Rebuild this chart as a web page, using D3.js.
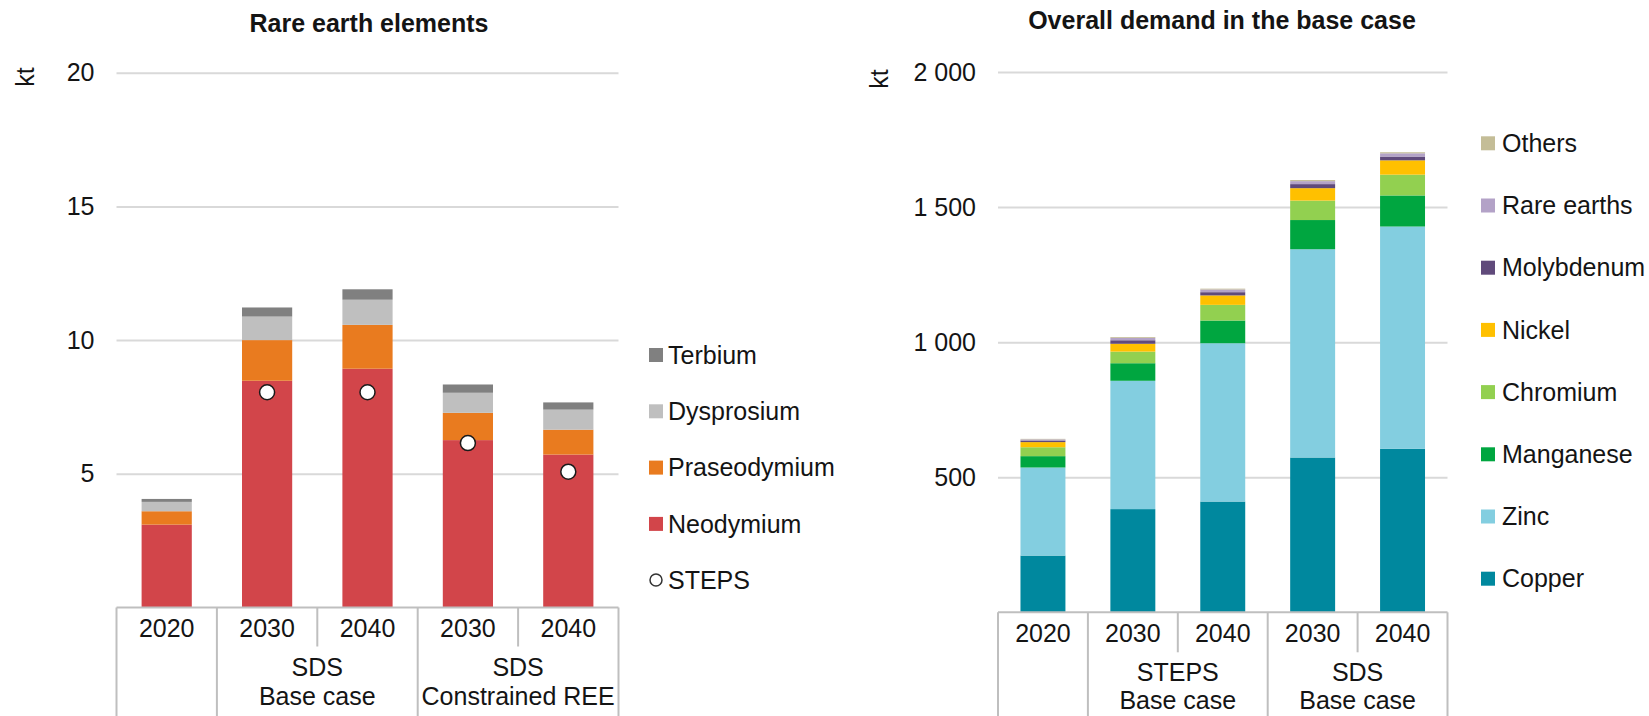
<!DOCTYPE html>
<html>
<head>
<meta charset="utf-8">
<script src="https://cdn.jsdelivr.net/npm/d3@7"></script>
<style>
  body { margin: 0; background: #fff; }
  svg { display: block; font-family: "Liberation Sans", Arial, sans-serif; }
</style>
</head>
<body>
<div id="chart"></div>
<script>
// ---- data: rare earth elements (kt) ----
var reeYears = ["2020", "2030", "2040", "2030", "2040"];
var reeGroups = [[""], ["SDS", "Base case"], ["SDS", "Constrained REE"]];
var reeGroupSpans = [1, 2, 2];
var neodymium = [3.1, 8.48, 8.93, 6.26, 5.72];
var praseodymium = [0.5, 1.52, 1.64, 1.02, 0.93];
var dysprosium = [0.35, 0.88, 0.94, 0.75, 0.75];
var terbium = [0.11, 0.34, 0.39, 0.31, 0.27];
var steps = [null, 8.05, 8.05, 6.15, 5.08];
var reeTicks = [5, 10, 15, 20];

// ---- data: overall demand in the base case (kt) ----
var demYears = ["2020", "2030", "2040", "2030", "2040"];
var demGroups = [[""], ["STEPS", "Base case"], ["SDS", "Base case"]];
var demGroupSpans = [1, 2, 2];
var copper = [210, 382, 410, 573, 605];
var zinc = [326, 475, 586, 771, 823];
var manganese = [42, 65, 84, 108, 115];
var chromium = [33, 43, 58, 72, 77];
var nickel = [19, 29, 35, 46, 53];
var molybdenum = [6, 13, 12, 15, 14];
var rareEarths = [4, 9, 10, 11, 12];
var others = [2, 3, 3, 4, 4];
var demTicks = [500, 1000, 1500, 2000];

var svg = d3.select("#chart")
  .append("svg")
    .attr("width", 1649)
    .attr("height", 716);

var textColor = "#141414";

function drawPanel(opt) {
  var x = d3.scaleBand()
    .domain(d3.range(opt.years.length))
    .range([opt.left, opt.right])
    .paddingInner(0.5)
    .paddingOuter(0.25);
  var y = d3.scaleLinear()
    .domain([0, opt.max])
    .range([opt.bottom, opt.top]);

  // gridlines + tick labels
  var ax = svg.append("g")
    .attr("transform", "translate(" + opt.left + ",0)")
    .call(d3.axisLeft(y).tickValues(opt.ticks).tickSize(-(opt.right - opt.left)).tickPadding(22)
      .tickFormat(opt.fmt));
  ax.select(".domain").remove();
  ax.selectAll("line").attr("stroke", "#d9d9d9").attr("stroke-width", 2);
  ax.selectAll("text").attr("fill", textColor).style("font-size", "25px");

  // unit label
  svg.append("text")
    .attr("transform", "translate(" + opt.unitX + "," + opt.unitY + ") rotate(-90)")
    .attr("text-anchor", "middle")
    .attr("dy", "0.35em")
    .attr("fill", textColor)
    .style("font-size", "25px")
    .text("kt");

  // title
  svg.append("text")
    .attr("x", opt.titleX).attr("y", opt.titleY)
    .attr("text-anchor", "middle")
    .attr("fill", textColor)
    .style("font-size", "25px").style("font-weight", "bold")
    .text(opt.title);

  // stacked bars
  var table = opt.years.map(function(d, i) {
    var row = {i: i};
    opt.series.forEach(function(s) { row[s.name] = s.values[i]; });
    return row;
  });
  var stacked = d3.stack().keys(opt.series.map(function(s) { return s.name; }))(table);
  svg.append("g").selectAll("g")
    .data(stacked)
    .join("g")
      .attr("fill", function(d, i) { return opt.series[i].color; })
    .selectAll("rect")
    .data(function(d) { return d; })
    .join("rect")
      .attr("x", function(d) { return x(d.data.i); })
      .attr("width", x.bandwidth())
      .attr("y", function(d) { return y(d[1]); })
      .attr("height", function(d) { return y(d[0]) - y(d[1]); });

  // base line
  svg.append("line")
    .attr("x1", opt.left).attr("x2", opt.right)
    .attr("y1", opt.bottom).attr("y2", opt.bottom)
    .attr("stroke", "#bfbfbf").attr("stroke-width", 2);

  // year labels
  var xa = svg.append("g")
    .attr("transform", "translate(0," + opt.bottom + ")")
    .call(d3.axisBottom(x).tickSize(0).tickPadding(opt.yearOffset)
      .tickFormat(function(i) { return opt.years[i]; }));
  xa.select(".domain").remove();
  xa.selectAll("text").attr("fill", textColor).style("font-size", "25px");

  // category separators
  var step = x.step();
  var groupEdges = [0];
  opt.spans.forEach(function(s) { groupEdges.push(groupEdges[groupEdges.length - 1] + s); });
  d3.range(opt.years.length + 1).forEach(function(i) {
    var full = groupEdges.indexOf(i) >= 0;
    svg.append("line")
      .attr("x1", opt.left + i * step).attr("x2", opt.left + i * step)
      .attr("y1", opt.bottom).attr("y2", full ? 716 : opt.bottom + opt.shortSep)
      .attr("stroke", "#bfbfbf").attr("stroke-width", 2);
  });

  // group labels
  opt.groups.forEach(function(lines, g) {
    var cx = opt.left + (groupEdges[g] + opt.spans[g] / 2) * step;
    lines.forEach(function(t, k) {
      svg.append("text")
        .attr("x", cx).attr("y", opt.bottom + opt.groupOffsets[k])
        .attr("text-anchor", "middle").attr("dy", "0.35em")
        .attr("fill", textColor).style("font-size", "25px")
        .text(t);
    });
  });

  return {x: x, y: y};
}

// ---- left panel ----
var reeSeries = [
  {name: "Neodymium", values: neodymium, color: "#d2454a"},
  {name: "Praseodymium", values: praseodymium, color: "#e97b1f"},
  {name: "Dysprosium", values: dysprosium, color: "#bfbfbf"},
  {name: "Terbium", values: terbium, color: "#808080"}
];
var p1 = drawPanel({
  years: reeYears, groups: reeGroups, spans: reeGroupSpans, series: reeSeries,
  left: 116.5, right: 618.5, top: 72.7, bottom: 607.5, max: 20, ticks: reeTicks,
  fmt: d3.format("d"), title: "Rare earth elements", titleX: 369, titleY: 32,
  unitX: 25, unitY: 77, yearOffset: 12, shortSep: 39, groupOffsets: [60, 89]
});

// STEPS markers
svg.append("g").selectAll("circle")
  .data(steps.map(function(v, i) { return {i: i, v: v}; }).filter(function(d) { return d.v != null; }))
  .join("circle")
    .attr("cx", function(d) { return p1.x(d.i) + p1.x.bandwidth() / 2; })
    .attr("cy", function(d) { return p1.y(d.v); })
    .attr("r", 7.5)
    .attr("fill", "#fff")
    .attr("stroke", "#1a1a1a")
    .attr("stroke-width", 1.5);

// left legend
var reeLegend = reeSeries.slice().reverse();
reeLegend.forEach(function(s, i) {
  var cy = 355 + i * 56.3;
  svg.append("rect").attr("x", 649).attr("y", cy - 7).attr("width", 14).attr("height", 14).style("fill", s.color);
  svg.append("text").attr("x", 668).attr("y", cy).attr("dy", "0.35em").text(s.name)
    .style("font-size", "25px").attr("fill", textColor);
});
svg.append("circle").attr("cx", 656).attr("cy", 580).attr("r", 6)
  .attr("fill", "#fff").attr("stroke", "#333").attr("stroke-width", 1.5);
svg.append("text").attr("x", 668).attr("y", 580).attr("dy", "0.35em").text("STEPS")
  .style("font-size", "25px").attr("fill", textColor);

// ---- right panel ----
var demSeries = [
  {name: "Copper", values: copper, color: "#00889e"},
  {name: "Zinc", values: zinc, color: "#83cee0"},
  {name: "Manganese", values: manganese, color: "#00a640"},
  {name: "Chromium", values: chromium, color: "#92d050"},
  {name: "Nickel", values: nickel, color: "#ffc000"},
  {name: "Molybdenum", values: molybdenum, color: "#604a7b"},
  {name: "Rare earths", values: rareEarths, color: "#b3a2c7"},
  {name: "Others", values: others, color: "#c4bd97"}
];
var fmtSpace = function(v) { return d3.format(",")(v).replace(/,/g, " "); };
drawPanel({
  years: demYears, groups: demGroups, spans: demGroupSpans, series: demSeries,
  left: 998, right: 1447.5, top: 72, bottom: 612.3, max: 2000, ticks: demTicks,
  fmt: fmtSpace, title: "Overall demand in the base case", titleX: 1222, titleY: 29,
  unitX: 879, unitY: 79, yearOffset: 12, shortSep: 40, groupOffsets: [60, 88]
});

// right legend
var demLegend = demSeries.slice().reverse();
demLegend.forEach(function(s, i) {
  var cy = 143.3 + i * 62.2;
  svg.append("rect").attr("x", 1481).attr("y", cy - 7).attr("width", 14).attr("height", 14).style("fill", s.color);
  svg.append("text").attr("x", 1502).attr("y", cy).attr("dy", "0.35em").text(s.name)
    .style("font-size", "25px").attr("fill", textColor);
});
</script>
</body>
</html>
